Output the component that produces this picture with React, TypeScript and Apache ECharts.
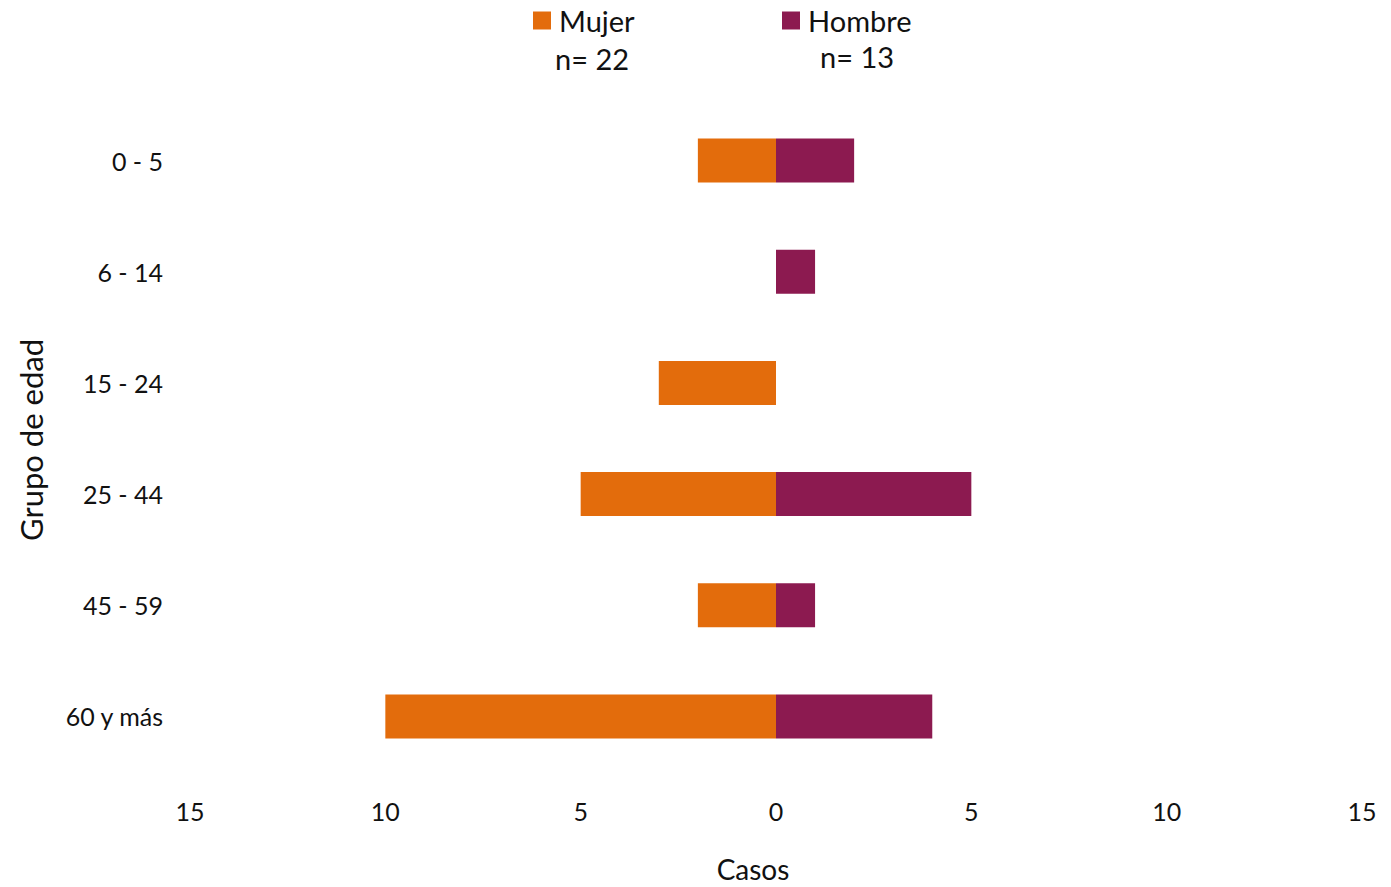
import React, { useEffect, useRef } from "react";
import * as echarts from "echarts";

const categories = ["0 - 5", "6 - 14", "15 - 24", "25 - 44", "45 - 59", "60 y más"];
const mujer = [2, 0, 3, 5, 2, 10];
const hombre = [2, 1, 0, 5, 1, 4];
const mujerN = 22;
const hombreN = 13;
const xTicks = { min: -15, max: 15, interval: 5 };

const FONT = "Lato, 'Open Sans', sans-serif";
const ORANGE = "#E36C0C";
const PURPLE = "#8C1A50";

export default function App() {
  const ref = useRef<HTMLDivElement>(null);
  useEffect(() => {
    if (!ref.current) return;
    const chart = echarts.init(ref.current, undefined, { renderer: "svg" });
    const legendText = { fontSize: 29, color: "#111", fontFamily: FONT, padding: [0, 0, 0, 3] };
    chart.setOption({
      animation: false,
      textStyle: { fontFamily: FONT },
      legend: [
        {
          data: ["Mujer"],
          left: 528,
          top: 1,
          itemWidth: 18,
          itemHeight: 18,
          icon: "rect",
          textStyle: legendText,
        },
        {
          data: ["Hombre"],
          left: 777,
          top: 1,
          itemWidth: 18,
          itemHeight: 18,
          icon: "rect",
          textStyle: legendText,
        },
      ],
      grid: { left: 190, right: 29, top: 105, bottom: 115, containLabel: false },
      xAxis: {
        type: "value",
        min: xTicks.min,
        max: xTicks.max,
        interval: xTicks.interval,
        axisLine: { show: false },
        axisTick: { show: false },
        splitLine: { show: false },
        axisLabel: {
          formatter: (v: number) => String(Math.abs(v)),
          fontSize: 25,
          color: "#111",
          margin: 26,
          fontFamily: FONT,
        },
      },
      yAxis: {
        type: "category",
        data: categories,
        inverse: true,
        axisLine: { show: false, onZero: false },
        axisTick: { show: false },
        splitLine: { show: false },
        axisLabel: { fontSize: 25, color: "#111", margin: 27, fontFamily: FONT },
      },
      graphic: [
        {
          type: "text",
          x: 592,
          y: 58,
          style: {
            text: "n= " + mujerN,
            fill: "#111",
            font: `29px ${FONT}`,
            align: "center",
            verticalAlign: "middle",
          },
        },
        {
          type: "text",
          x: 857,
          y: 56,
          style: {
            text: "n= " + hombreN,
            fill: "#111",
            font: `29px ${FONT}`,
            align: "center",
            verticalAlign: "middle",
          },
        },
        {
          type: "text",
          x: 753,
          y: 869,
          style: {
            text: "Casos",
            fill: "#111",
            font: `28px ${FONT}`,
            align: "center",
            verticalAlign: "middle",
          },
        },
        {
          type: "text",
          x: 31,
          y: 440,
          rotation: Math.PI / 2,
          style: {
            text: "Grupo de edad",
            fill: "#111",
            font: `31px ${FONT}`,
            align: "center",
            verticalAlign: "middle",
          },
        },
      ],
      series: [
        {
          name: "Mujer",
          type: "bar",
          stack: "total",
          barWidth: 44,
          itemStyle: { color: ORANGE },
          data: mujer.map((v) => -v),
        },
        {
          name: "Hombre",
          type: "bar",
          stack: "total",
          barWidth: 44,
          itemStyle: { color: PURPLE },
          data: hombre,
        },
      ],
    });
    return () => chart.dispose();
  }, []);
  return <div ref={ref} style={{ width: 1391, height: 887, position: "absolute", left: 0, top: 0 }} />;
}
